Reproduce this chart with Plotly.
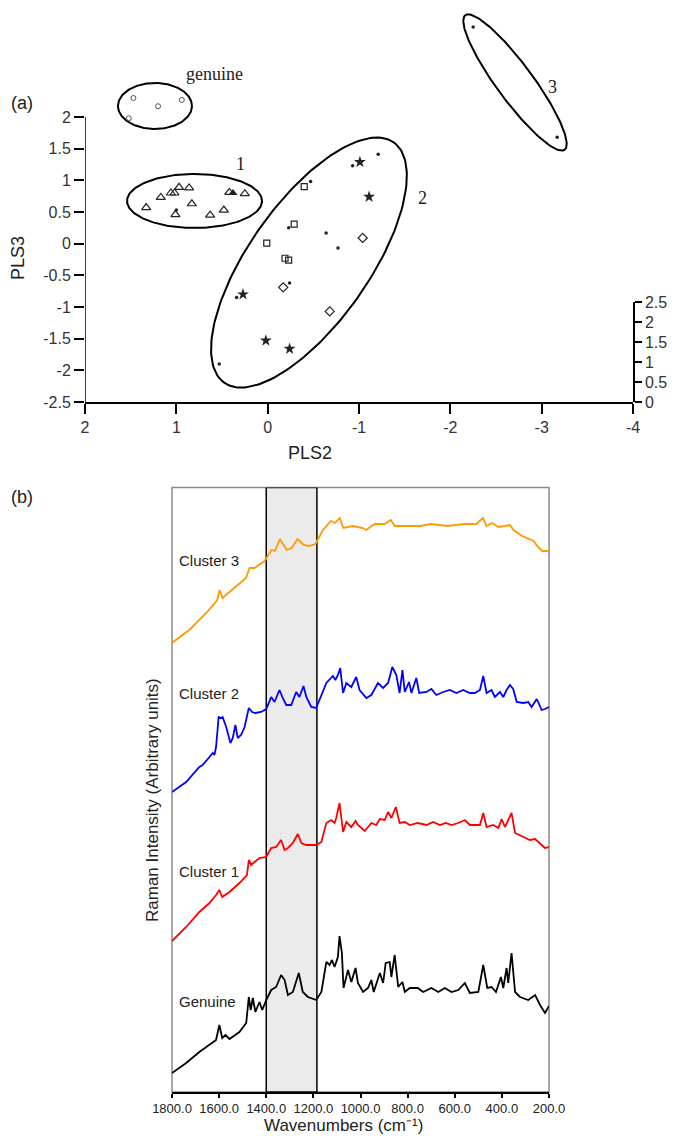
import numpy as np
import plotly.graph_objects as go

W, H = 681, 1136

# ---------------- Panel (a) data ----------------
genuine_x = [1.47, 0.94, 1.20, 1.52]
genuine_y = [2.30, 2.27, 2.17, 1.98]
tri_x = [1.33, 1.17, 1.06, 1.02, 0.97, 0.86, 0.83, 1.01, 0.63, 0.48, 0.42, 0.25]
tri_y = [0.57, 0.73, 0.80, 0.80, 0.89, 0.88, 0.63, 0.46, 0.45, 0.53, 0.81, 0.79]
trif_x = [0.38]
trif_y = [0.80]
dot_x = [1.00, -0.47, -0.93, -1.21, -0.23, -0.64, -0.77, -0.24, 0.34, 0.53, -2.25, -3.17]
dot_y = [0.53, 0.98, 1.23, 1.41, 0.25, 0.17, -0.07, -0.62, -0.85, -1.90, 3.42, 1.68]
sq_x = [-0.40, -0.29, 0.01, -0.19, -0.23]
sq_y = [0.90, 0.31, 0.01, -0.23, -0.26]
star_x = [-1.01, -1.11, 0.27, 0.02, -0.24]
star_y = [1.29, 0.74, -0.80, -1.53, -1.66]
dia_x = [-1.04, -0.17, -0.68]
dia_y = [0.09, -0.69, -1.07]

pls2_ticks = [2, 1, 0, -1, -2, -3, -4]
pls3_ticks = [-2.5, -2, -1.5, -1, -0.5, 0, 0.5, 1, 1.5, 2]
z_ticks = [0, 0.5, 1, 1.5, 2, 2.5]

# ---------------- Panel (b) data ----------------
w3 = [1800, 1722, 1651, 1608, 1598, 1586, 1536, 1486, 1471, 1450, 1407, 1378, 1363, 1342, 1313, 1292, 1267, 1241, 1220, 1191,
      1162, 1126, 1108, 1088, 1073, 1033, 990, 976, 940, 897, 872, 854, 803, 746, 703, 631, 559, 509, 480, 466,
      441, 415, 387, 365, 351, 315, 265, 250, 229, 200]
i3 = [4.49, 4.63, 4.80, 4.92, 5.02, 4.94, 5.04, 5.14, 5.24, 5.24, 5.31, 5.42, 5.41, 5.53, 5.42, 5.44, 5.53, 5.47, 5.46, 5.48,
      5.61, 5.71, 5.69, 5.74, 5.64, 5.66, 5.64, 5.62, 5.68, 5.68, 5.72, 5.66, 5.66, 5.66, 5.68, 5.66, 5.68, 5.68, 5.74, 5.66,
      5.69, 5.65, 5.66, 5.67, 5.62, 5.56, 5.51, 5.46, 5.41, 5.41]

w2 = [1800, 1740, 1684, 1670, 1641, 1627, 1620, 1613, 1602, 1592, 1585, 1570, 1552, 1542, 1531, 1521, 1507, 1492, 1474, 1460,
      1446, 1422, 1400, 1379, 1365, 1344, 1330, 1315, 1294, 1273, 1259, 1242, 1230, 1209, 1188, 1166, 1145, 1117, 1107, 1096,
      1086, 1074, 1060, 1039, 1018, 1004, 975, 954, 926, 904, 883, 865, 848, 834, 822, 812, 794, 784, 763, 751,
      720, 699, 678, 649, 621, 593, 564, 536, 515, 493, 479, 465, 444, 430, 408, 394, 380, 366, 352, 337,
      309, 288, 274, 252, 231, 217, 200]
i2 = [3.00, 3.10, 3.25, 3.27, 3.35, 3.39, 3.37, 3.45, 3.75, 3.74, 3.75, 3.65, 3.49, 3.54, 3.67, 3.54, 3.57, 3.65, 3.84, 3.80,
      3.79, 3.80, 3.83, 3.95, 3.90, 4.02, 3.94, 3.87, 3.87, 4.00, 3.95, 4.06, 3.95, 3.85, 3.84, 3.97, 4.09, 4.16, 4.12, 4.17,
      4.24, 3.99, 4.09, 4.05, 4.15, 4.02, 3.94, 3.97, 4.09, 4.04, 4.09, 4.25, 4.17, 3.99, 4.22, 4.00, 4.10, 3.99, 4.14, 3.99,
      4.00, 4.03, 3.97, 4.00, 4.02, 3.99, 4.02, 3.99, 3.99, 4.02, 4.16, 3.99, 4.02, 3.95, 4.00, 3.95, 4.02, 4.07, 4.03, 3.90,
      3.89, 3.90, 3.85, 3.93, 3.82, 3.83, 3.85]

w1 = [1800, 1740, 1684, 1641, 1613, 1599, 1587, 1556, 1514, 1482, 1474, 1464, 1450, 1429, 1400, 1379, 1358, 1337, 1322, 1308,
      1287, 1266, 1251, 1230, 1188, 1166, 1145, 1124, 1110, 1103, 1089, 1074, 1060, 1039, 1021, 1011, 982, 954, 933, 918,
      897, 883, 869, 850, 834, 812, 791, 757, 720, 692, 663, 638, 614, 585, 557, 536, 493, 479, 465, 437,
      415, 401, 387, 373, 359, 344, 309, 281, 259, 238, 217, 200]
i1 = [1.51, 1.65, 1.80, 1.89, 1.97, 2.02, 1.95, 2.00, 2.09, 2.17, 2.32, 2.27, 2.30, 2.34, 2.35, 2.44, 2.45, 2.52, 2.42, 2.44,
      2.49, 2.58, 2.49, 2.47, 2.47, 2.50, 2.69, 2.72, 2.69, 2.74, 2.89, 2.60, 2.70, 2.65, 2.71, 2.67, 2.61, 2.69, 2.67, 2.73,
      2.72, 2.80, 2.74, 2.85, 2.69, 2.70, 2.67, 2.69, 2.67, 2.70, 2.67, 2.69, 2.67, 2.69, 2.72, 2.67, 2.67, 2.79, 2.65, 2.67,
      2.64, 2.73, 2.65, 2.72, 2.79, 2.59, 2.55, 2.52, 2.53, 2.48, 2.44, 2.45]

w0 = [1800, 1740, 1684, 1641, 1613, 1599, 1587, 1573, 1556, 1514, 1485, 1474, 1466, 1457, 1446, 1429, 1417, 1400, 1379, 1358,
      1337, 1322, 1308, 1287, 1262, 1245, 1223, 1188, 1166, 1145, 1131, 1121, 1110, 1096, 1089, 1079, 1072, 1053, 1039, 1021,
      1011, 989, 968, 954, 944, 918, 904, 893, 876, 869, 855, 840, 822, 812, 791, 757, 734, 699, 670, 642,
      614, 585, 557, 536, 500, 479, 462, 444, 425, 404, 394, 380, 373, 359, 344, 323, 288, 259, 238, 217, 200]
i0 = [0.19, 0.29, 0.40, 0.47, 0.52, 0.67, 0.54, 0.57, 0.53, 0.60, 0.69, 0.95, 0.82, 0.94, 0.80, 0.90, 0.82, 0.92, 1.02, 1.05,
      1.17, 1.12, 0.97, 1.00, 1.19, 1.00, 0.95, 0.92, 1.00, 1.30, 1.27, 1.32, 1.25, 1.35, 1.56, 1.39, 1.04, 1.22, 1.10, 1.24,
      1.09, 1.00, 1.04, 1.12, 1.00, 1.19, 1.09, 1.29, 1.30, 1.15, 1.37, 1.05, 1.10, 1.00, 1.04, 1.04, 1.00, 1.04, 1.00, 1.04,
      1.00, 1.02, 1.09, 0.99, 1.00, 1.27, 1.04, 1.05, 1.00, 1.15, 1.04, 1.24, 1.09, 1.39, 1.00, 0.95, 0.92, 0.97, 0.87, 0.79,
      0.86]

series_names = ["Cluster 3", "Cluster 2", "Cluster 1", "Genuine"]
wn_ticks = [1800, 1600, 1400, 1200, 1000, 800, 600, 400, 200]
band = (1400, 1185)

# ---------------- layout geometry (pixels) ----------------
AX_L, AX_R = 85, 633          # PLS2 = 2 .. -4
AY_B, AY_T = 402, 0           # PLS3 range bottom/top
A_XR = [2, -4]
A_YR = [-2.5, 2 + 117 / (285 / 4.5)]
SX = (AX_R - AX_L) / (A_XR[0] - A_XR[1])
SY = (AY_B - AY_T) / (A_YR[1] - A_YR[0])

BX_L, BX_R = 172, 549
BY_B, BY_T = 1092, 487.6
B_YR = [0, (BY_B - BY_T) / 100]


def fx(p):
    return p / W


def fy(p):
    return 1 - p / H


def ellipse(cx, cy, a_px, b_px, ang_deg, n=200):
    t = np.linspace(0, 2 * np.pi, n)
    th = np.radians(ang_deg)
    u = a_px * np.cos(t) * np.cos(th) - b_px * np.sin(t) * np.sin(th)
    v = a_px * np.cos(t) * np.sin(th) + b_px * np.sin(t) * np.cos(th)
    return cx - u / SX, cy + v / SY


ellipses = [
    (1.234, 2.174, 37, 23, 0),
    (0.801, 0.674, 67.5, 27, 0),
    (-0.452, -0.298, 147, 60, 54.8),
    (-2.708, 2.545, 83.6, 18.1, -53.6),
]

fig = go.Figure()

for (cx, cy, a, b, ang) in ellipses:
    ex, ey = ellipse(cx, cy, a, b, ang)
    fig.add_trace(go.Scatter(x=ex, y=ey, mode="lines", line=dict(color="black", width=2),
                             xaxis="x", yaxis="y", hoverinfo="skip", showlegend=False))

mk = "#222222"
fig.add_trace(go.Scatter(x=genuine_x, y=genuine_y, mode="markers",
                         marker=dict(symbol="circle-open", size=5, color="#555", line=dict(width=1)),
                         xaxis="x", yaxis="y", showlegend=False))
fig.add_trace(go.Scatter(x=tri_x, y=tri_y, mode="markers",
                         marker=dict(symbol="triangle-up-open", size=8, color=mk, line=dict(width=1.2)),
                         xaxis="x", yaxis="y", showlegend=False))
fig.add_trace(go.Scatter(x=trif_x, y=trif_y, mode="markers",
                         marker=dict(symbol="triangle-up", size=8, color=mk),
                         xaxis="x", yaxis="y", showlegend=False))
fig.add_trace(go.Scatter(x=sq_x, y=sq_y, mode="markers",
                         marker=dict(symbol="square-open", size=6, color=mk, line=dict(width=1.2)),
                         xaxis="x", yaxis="y", showlegend=False))
fig.add_trace(go.Scatter(x=dia_x, y=dia_y, mode="markers",
                         marker=dict(symbol="diamond-open", size=7, color=mk, line=dict(width=1.2)),
                         xaxis="x", yaxis="y", showlegend=False))
fig.add_trace(go.Scatter(x=star_x, y=star_y, mode="markers",
                         marker=dict(symbol="star", size=9, color=mk),
                         xaxis="x", yaxis="y", showlegend=False))
fig.add_trace(go.Scatter(x=dot_x, y=dot_y, mode="markers",
                         marker=dict(symbol="circle", size=3.5, color=mk),
                         xaxis="x", yaxis="y", showlegend=False))
# helper trace for the small z-axis
fig.add_trace(go.Scatter(x=[0.5], y=[1], mode="markers", marker=dict(opacity=0),
                         xaxis="x3", yaxis="y3", showlegend=False, hoverinfo="skip"))

# spectra
colors = ["#ff9a00", "#0000ff", "#ff0000", "#000000"]
for wv, iv, c, nm in zip([w3, w2, w1, w0], [i3, i2, i1, i0], colors, series_names):
    fig.add_trace(go.Scatter(x=wv, y=iv, mode="lines", line=dict(color=c, width=1.8),
                             name=nm, xaxis="x2", yaxis="y2", showlegend=False))

tickfont = dict(family="Liberation Sans, Arial", size=16, color="#333")

fig.update_layout(
    width=W, height=H, autosize=False,
    margin=dict(l=0, r=0, t=0, b=0, pad=0),
    paper_bgcolor="white", plot_bgcolor="rgba(0,0,0,0)",
    showlegend=False,
    xaxis=dict(domain=[fx(AX_L), fx(AX_R)], range=A_XR, anchor="y", automargin=False,
               tickvals=pls2_ticks, ticktext=[str(v) for v in pls2_ticks],
               ticks="outside", ticklen=10, tickwidth=1.5, tickcolor="black",
               showline=True, linecolor="black", linewidth=1.5,
               showgrid=False, zeroline=False, tickfont=tickfont),
    yaxis=dict(domain=[fy(AY_B), fy(AY_T)], range=A_YR, anchor="x", automargin=False,
               tickvals=pls3_ticks, ticktext=[("%g" % v) for v in pls3_ticks],
               ticks="outside", ticklen=10, tickwidth=1.5, tickcolor="black",
               showline=False, showgrid=False, zeroline=False, tickfont=tickfont),
    xaxis3=dict(domain=[0.85, fx(AX_R)], range=[0, 1], anchor="y3", visible=False, automargin=False),
    yaxis3=dict(domain=[fy(AY_B), fy(AY_B - 100)], range=[0, 2.5], anchor="x3", side="right",
                automargin=False,
                tickvals=z_ticks, ticktext=[("%g" % v) for v in z_ticks],
                ticks="outside", ticklen=7, tickwidth=1.5, tickcolor="black",
                showline=True, linecolor="black", linewidth=1.5,
                showgrid=False, zeroline=False, tickfont=tickfont),
    xaxis2=dict(domain=[fx(BX_L), fx(BX_R)], range=[1800, 200], anchor="y2", automargin=False,
                tickvals=wn_ticks, ticktext=["%.1f" % v for v in wn_ticks],
                ticks="outside", ticklen=4, tickwidth=1.5, tickcolor="black",
                showline=True, linecolor="black", linewidth=1.5,
                showgrid=False, zeroline=False,
                tickfont=dict(family="Liberation Sans, Arial", size=13, color="#222")),
    yaxis2=dict(domain=[fy(BY_B), fy(BY_T)], range=B_YR, anchor="x2", visible=False,
                automargin=False, showgrid=False, zeroline=False),
)

shapes = [
    dict(type="line", xref="x", yref="y", x0=2, x1=2, y0=-2.5, y1=2,
         line=dict(color="black", width=1.5)),
    dict(type="rect", xref="x2 domain", yref="y2 domain", x0=0, x1=1, y0=0, y1=1,
         line=dict(color="#8a8a8a", width=1.5), layer="below"),
    dict(type="rect", xref="x2", yref="y2", x0=band[0], x1=band[1], y0=B_YR[0], y1=B_YR[1],
         fillcolor="#ebebeb", line=dict(color="black", width=1.5), layer="below"),
]
fig.update_layout(shapes=shapes)

sans = "Liberation Sans, Arial"
serif = "Liberation Serif, Times New Roman"
ann = []


def add_text(text, x, y, size, family=sans, angle=0, xanchor="center", color="#222"):
    ann.append(dict(text=text, x=fx(x), y=fy(y), xref="paper", yref="paper", showarrow=False,
                    xanchor=xanchor, yanchor="middle", textangle=angle,
                    font=dict(family=family, size=size, color=color)))


add_text("(a)", 22, 103, 18)
add_text("PLS3", 18, 258, 18, angle=-90)
add_text("PLS2", 310, 453, 18)
add_text("genuine", 214.5, 74, 18, family=serif)
add_text("1", 240, 164, 18, family=serif)
add_text("2", 422, 198, 18, family=serif)
add_text("3", 552, 87, 18, family=serif)
add_text("(b)", 22, 497, 18)
add_text("Raman Intensity (Arbitrary units)", 152, 800, 17, angle=-90)
add_text("Wavenumbers (cm\u207b\u00b9)", 343, 1125, 17)
for nm, yy in zip(series_names, [561, 693, 871, 1001]):
    add_text(nm, 177, yy, 15, xanchor="left")
fig.update_layout(annotations=ann)

fig.write_html("out.html")
